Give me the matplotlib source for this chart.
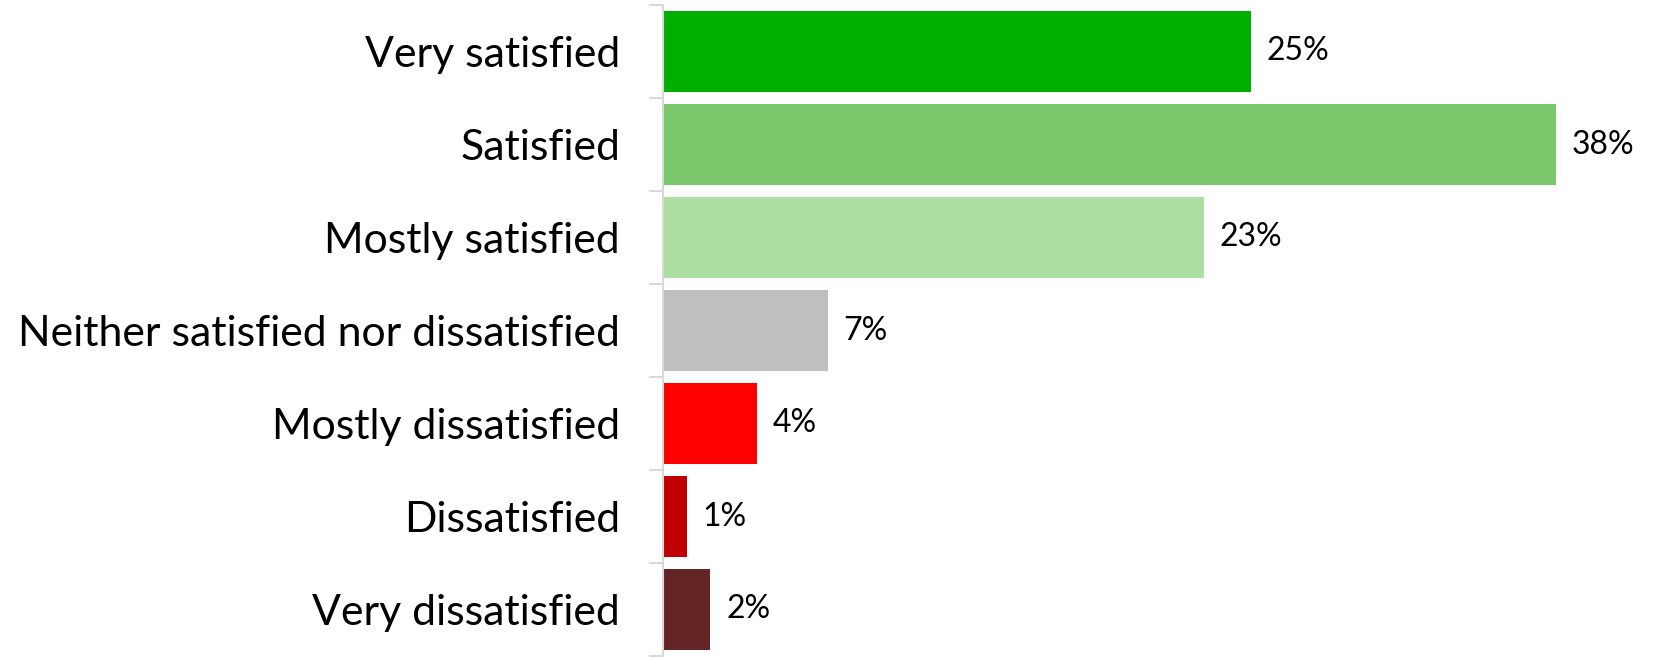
import matplotlib.pyplot as plt
from matplotlib.ticker import FixedLocator

categories = [
    "Very satisfied",
    "Satisfied",
    "Mostly satisfied",
    "Neither satisfied nor dissatisfied",
    "Mostly dissatisfied",
    "Dissatisfied",
    "Very dissatisfied",
]
values = [25, 38, 23, 7, 4, 1, 2]
colors = ["#00B000", "#7BC86C", "#ADDEA2", "#BFBFBF", "#FF0000", "#C00000", "#632424"]

W, H = 1654, 657
fig = plt.figure(figsize=(W / 100, H / 100), dpi=100)

# axes placed in pixel units
left_px, top_px, bottom_px = 663, 5, 656
x_max = 42
px_per_pct = 23.5
ax = fig.add_axes([left_px / W, 1 - bottom_px / H,
                   x_max * px_per_pct / W, (bottom_px - top_px) / H])

y = list(range(len(categories)))
ax.barh(y, values, height=0.87, color=colors)

for yi, v in zip(y, values):
    ax.annotate(f"{v}%", (v, yi), xytext=(16, 0), textcoords="offset pixels",
                va="center", ha="left", fontsize=23, family="Lato")

ax.set_xlim(0, x_max)
ax.set_ylim(len(categories) - 0.5, -0.5)
ax.set_yticks(y)
ax.set_yticklabels(categories, fontsize=30.8, family="Lato")
ax.tick_params(axis="y", which="major", length=0, pad=31)
ax.yaxis.set_minor_locator(FixedLocator([i - 0.5 for i in range(len(categories) + 1)]))
ax.tick_params(axis="y", which="minor", length=10, width=1.5, color="#D9D9D9")

ax.set_xticks([])
for s in ["top", "right", "bottom"]:
    ax.spines[s].set_visible(False)
ax.spines["left"].set_color("#D9D9D9")
ax.spines["left"].set_linewidth(1.5)

fig.savefig("out.png", dpi=100)
